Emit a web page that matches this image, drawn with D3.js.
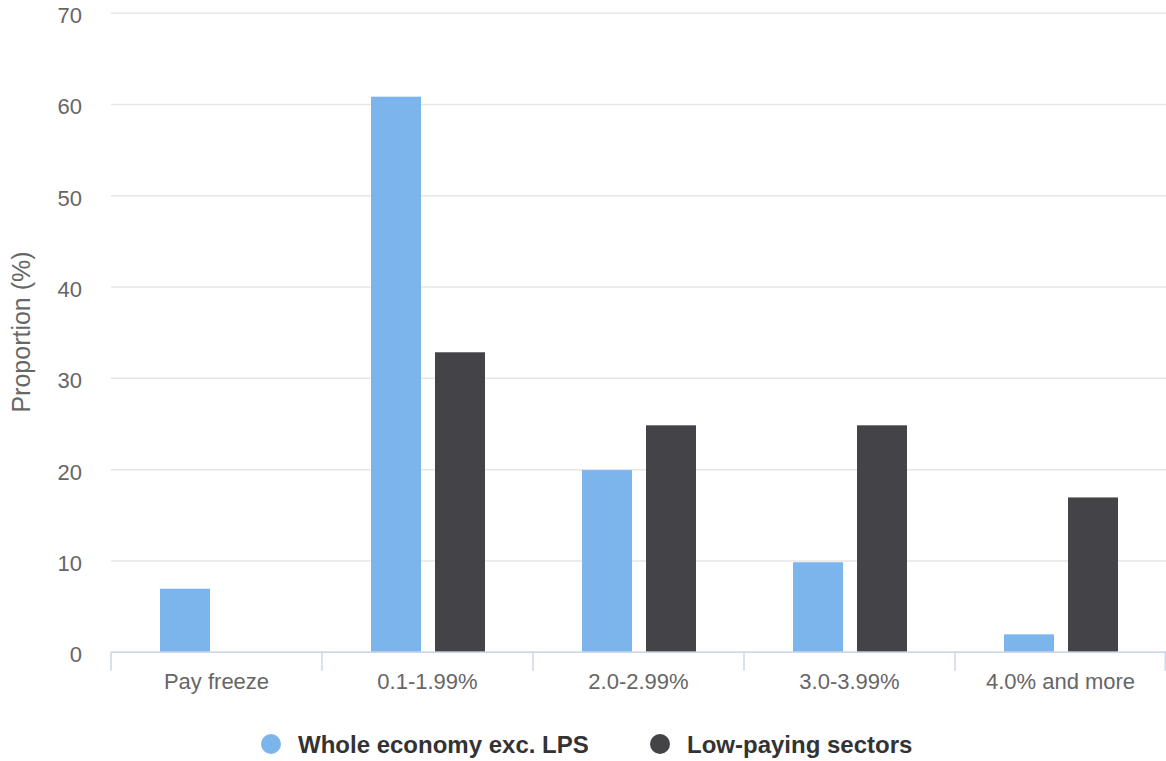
<!DOCTYPE html>
<html><head><meta charset="utf-8">
<script src="https://cdn.jsdelivr.net/npm/d3@7/dist/d3.min.js"></script>
<style>
html,body{margin:0;padding:0;background:#fff;}
svg{display:block;font-family:"Liberation Sans",Arial,Helvetica,sans-serif;}
</style></head>
<body><svg id="chart" width="1166" height="761"></svg>
<script>
const categories = ["Pay freeze","0.1-1.99%","2.0-2.99%","3.0-3.99%","4.0% and more"];
const seriesNames = ["Whole economy exc. LPS","Low-paying sectors"];
const wholeEconomy = [6.9, 60.8, 19.9, 9.8, 1.9];
const lowPaying = [0, 32.8, 24.8, 24.8, 16.9];
const yTicks = [0,10,20,30,40,50,60,70];
const colors = ["#7cb5ec","#434348"];

const svg = d3.select("#chart");
const plotLeft = 111, plotRight = 1166, plotTop = 12.7, plotBottom = 651.7;

const x0 = d3.scaleBand().domain(categories).range([plotLeft, plotRight]).padding(0);
const bw = x0.bandwidth();
const x1 = d3.scaleBand().domain(seriesNames).range([49, bw - 48]).paddingInner(14/64).paddingOuter(0);
const y = d3.scaleLinear().domain([0,70]).range([plotBottom, plotTop]);

// gridlines
const yAxis = d3.axisLeft(y).tickValues(yTicks).tickSize(-(plotRight-plotLeft)).tickPadding(29).tickFormat(d3.format("d"));
const gy = svg.append("g").attr("transform", `translate(${plotLeft},0)`).call(yAxis);
gy.select(".domain").remove();
gy.selectAll(".tick line").attr("stroke","#e6e6e6").attr("stroke-width",1.5);
gy.selectAll(".tick text").attr("fill","#666").attr("font-size","22px").attr("dy","0.45em");

// bars
const data = categories.map((c,i)=>({cat:c, vals:[wholeEconomy[i], lowPaying[i]]}));
const groups = svg.append("g").selectAll("g").data(data).join("g")
  .attr("transform", d=>`translate(${x0(d.cat)},0)`);
groups.selectAll("rect").data(d=>d.vals.map((v,j)=>({s:seriesNames[j], v, j})))
  .join("rect")
  .attr("x", d=>x1(d.s)).attr("width", x1.bandwidth())
  .attr("y", d=>y(d.v)).attr("height", d=>y(0)-y(d.v))
  .attr("fill", d=>colors[d.j]);

// x axis
const xAxis = d3.axisBottom(x0).tickSize(0).tickPadding(22);
const gx = svg.append("g").attr("transform", `translate(0,${plotBottom})`).call(xAxis);
gx.select(".domain").attr("stroke","#ccd6eb").attr("stroke-width",1.5);
gx.selectAll(".tick text").attr("fill","#666").attr("font-size","22px");
// category boundary ticks
const bounds = categories.map(c=>x0(c)).concat([plotRight]);
gx.selectAll("line.bound").data(bounds).join("line").attr("class","bound")
  .attr("x1", d=>Math.min(d, plotRight-0.75)).attr("x2", d=>Math.min(d, plotRight-0.75))
  .attr("y1",0).attr("y2",19).attr("stroke","#ccd6eb").attr("stroke-width",1.5);

// y axis title
svg.append("text").attr("transform","translate(30,332) rotate(-90)")
  .attr("text-anchor","middle").attr("fill","#666").attr("font-size","25px")
  .text("Proportion (%)");

// legend
const legendX = [271, 660];
const lg = svg.append("g").selectAll("g").data(seriesNames).join("g")
  .attr("transform",(d,i)=>`translate(${legendX[i]},744)`);
lg.append("circle").attr("r",10).attr("fill",(d,i)=>colors[i]);
lg.append("text").attr("x",27).attr("dy","0.36em").attr("font-size","24px")
  .attr("font-weight","bold").attr("fill","#333").text(d=>d);
</script>
</body></html>
